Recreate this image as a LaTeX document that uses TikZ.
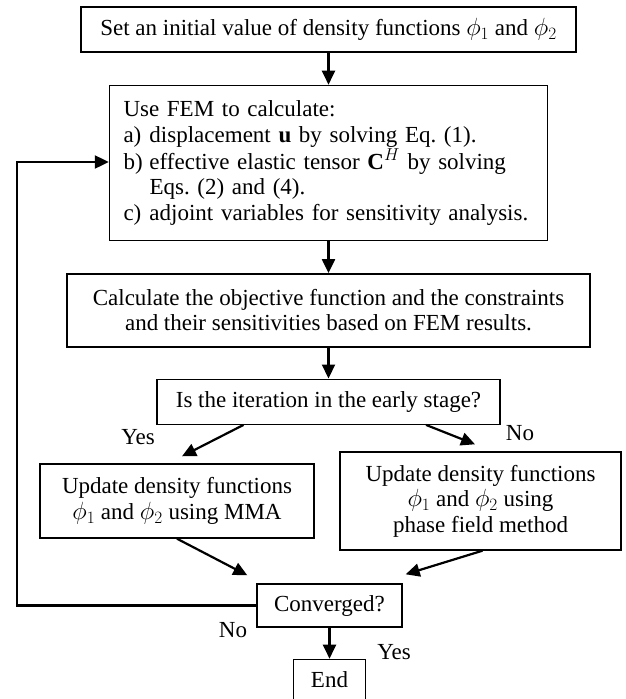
\documentclass[tikz,border=0pt]{standalone}
\usepackage{fontspec}
\setmainfont{Liberation Serif}
\usetikzlibrary{positioning,arrows.meta}

\begin{document}
\begin{tikzpicture}[x=1pt, y=-1pt, node distance=32pt, font=\fontsize{23}{25.5}\selectfont]
  % Define styles
  \tikzstyle{box}=[rectangle, draw=black, line width=1.4pt, text centered, inner sep=0pt]
  \tikzstyle{flow}=[-{Triangle[length=14pt,width=13pt]}, line width=2.2pt]

  \useasboundingbox (0,0) rectangle (625,699);

  % Boxes
  \node[box, minimum width=495pt, minimum height=45pt] (init) at (328.5,29.5) {Set an initial value of density functions $\phi_1$ and $\phi_2$};
  \node[box, below=of init, minimum width=438pt, minimum height=155pt, text width=410pt, align=left] (fem) {Use FEM to calculate:\\
    \makebox[26pt][l]{a)}displacement $\mathbf{u}$ by solving Eq.~(1).\\
    \makebox[26pt][l]{b)}effective elastic tensor $\mathbf{C}^{H}$ by solving\\
    \hspace*{26pt}Eqs.~(2) and (4).\\
    \makebox[26pt][l]{c)}adjoint variables for sensitivity analysis.};
  \node[box, below=of fem, minimum width=523pt, minimum height=73pt, align=center] (calc) {Calculate the objective function and the constraints\\ and their sensitivities based on FEM results.};
  \node[box, below=31pt of calc, minimum width=343pt, minimum height=45pt] (early) {Is the iteration in the early stage?};
  \node[box, minimum width=274pt, minimum height=74pt, align=center] (mma) at (177,501) {Update density functions\\ $\phi_1$ and $\phi_2$ using MMA};
  \node[box, minimum width=281pt, minimum height=98pt, align=center] (pfm) at (480.5,501) {Update density functions\\ $\phi_1$ and $\phi_2$ using\\ phase field method};
  \node[box, minimum width=145pt, minimum height=43pt] (conv) at (329.5,605.5) {Converged?};
  \node[box, below=31pt of conv, minimum width=72pt, minimum height=41pt] (stop) {End};

  % Labels
  \node (yes1) at (138,437) {Yes};
  \node (no1) at (520,433) {No};
  \node (no2) at (233,630) {No};
  \node (yes2) at (394,652) {Yes};

  % Free ends
  \coordinate (yesA) at ([xshift=-85pt]early.south);
  \coordinate (yesB) at ([xshift=5pt,yshift=7pt]mma.north);
  \coordinate (noA) at ([xshift=97.5pt]early.south);
  \coordinate (noB) at ([xshift=-5.5pt,yshift=7pt]pfm.north);
  \coordinate (mmaB) at ([xshift=-9pt,yshift=8pt]conv.north west);
  \coordinate (pfmB) at ([xshift=3pt,yshift=9pt]conv.north east);
  \coordinate (loop) at (17,162);

  % Arrows
  \draw[flow] (init) -- (fem);
  \draw[flow] (fem) -- (calc);
  \draw[flow] (calc) -- (early);
  \draw[flow] (yesA) -- (yesB);
  \draw[flow] (noA) -- (noB);
  \draw[flow] (mma.south) -- (mmaB);
  \draw[flow] ([xshift=2pt]pfm.south) -- (pfmB);
  \draw[flow] (conv) -- (stop);
  \draw[flow] (conv.west) -| (loop) -- (loop -| fem.west);
\end{tikzpicture}
\end{document}
